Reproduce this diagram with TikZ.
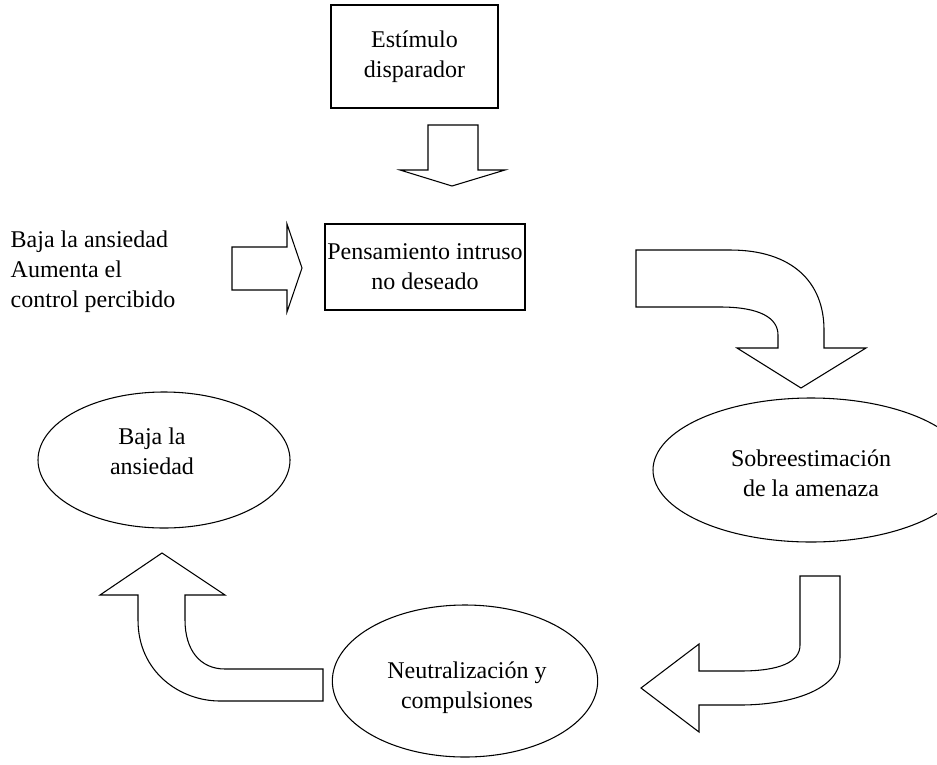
\documentclass[tikz,border=0pt]{standalone}
\usepackage{fontspec}
\setmainfont{Liberation Serif}
\usetikzlibrary{shapes.geometric}

\begin{document}
\begin{tikzpicture}[
  x=0.75pt, y=-0.75pt,
  font=\fontsize{18}{22.5}\selectfont,
  box/.style={rectangle, draw=black, line width=1.3pt, align=center, inner sep=0pt},
  blob/.style={ellipse, draw=black, line width=0.8pt, align=center, inner sep=0pt},
  barrow/.style={draw=black, line width=0.8pt, fill=white, line join=miter},
  lbl/.style={align=center},
]
\useasboundingbox (0,0) rectangle (937,764);
\clip (0,0) rectangle (937,764);

% ---------- the two boxes
\node[box, minimum width=125pt, minimum height=77pt] (trig) at (414.5,56.5) {};
\node[lbl] at (trig.center) {Estímulo\\disparador};
\node[box, minimum width=150pt, minimum height=64.5pt] (intr) at (425,267) {};
\node[lbl] at (intr.center) {Pensamiento intruso\\no deseado};

% ---------- the three ellipses
\node[blob, minimum width=237pt, minimum height=108pt] (threat) at (811,470) {};
\node[lbl] at (811,473) {Sobreestimación\\de la amenaza};
\node[blob, minimum width=199pt, minimum height=114pt] (neut) at (465,681) {};
\node[lbl] at (467,688) {Neutralización y\\compulsiones};
\node[blob, minimum width=189pt, minimum height=102pt] (relief) at (164,460) {};
\node[lbl] at (152,451) {Baja la\\ansiedad};

% ---------- side text
\node[align=left, anchor=west] (gain) at (6,272) {Baja la ansiedad\\Aumenta el\\control percibido};

% ---------- straight block arrows
\draw[barrow] (428,125) -- (478,125) -- (478,170) -- (505,170) -- (452,186)
  -- (400,170) -- (428,170) -- cycle;
\draw[barrow] (232,247) -- (287,247) -- (287,224) -- (302,268) -- (287,312)
  -- (287,290) -- (232,290) -- cycle;

% ---------- curved block arrows round the cycle
\draw[barrow] (636,250) -- (730,250) .. controls (792,250) and (824,282) .. (824,330)
  -- (824,348) -- (866,348) -- (801,388) -- (737,348) -- (778,348) -- (778,335)
  .. controls (778,318) and (760,307) .. (720,307) -- (636,307) -- cycle;
\draw[barrow] (800,576) -- (840,576) -- (840,657) .. controls (840,690) and (790,705) .. (740,705)
  -- (699,705) -- (699,732) -- (641,688) -- (699,644) -- (699,671) -- (740,671)
  .. controls (780,671) and (800,662) .. (800,645) -- cycle;
\draw[barrow] (323,669) -- (225,669) .. controls (200,669) and (185,650) .. (185,620)
  -- (185,595) -- (225,595) -- (162,553) -- (100,595) -- (138,595) -- (138,620)
  .. controls (138,672) and (180,701) .. (220,701) -- (323,701) -- cycle;
\end{tikzpicture}
\end{document}
